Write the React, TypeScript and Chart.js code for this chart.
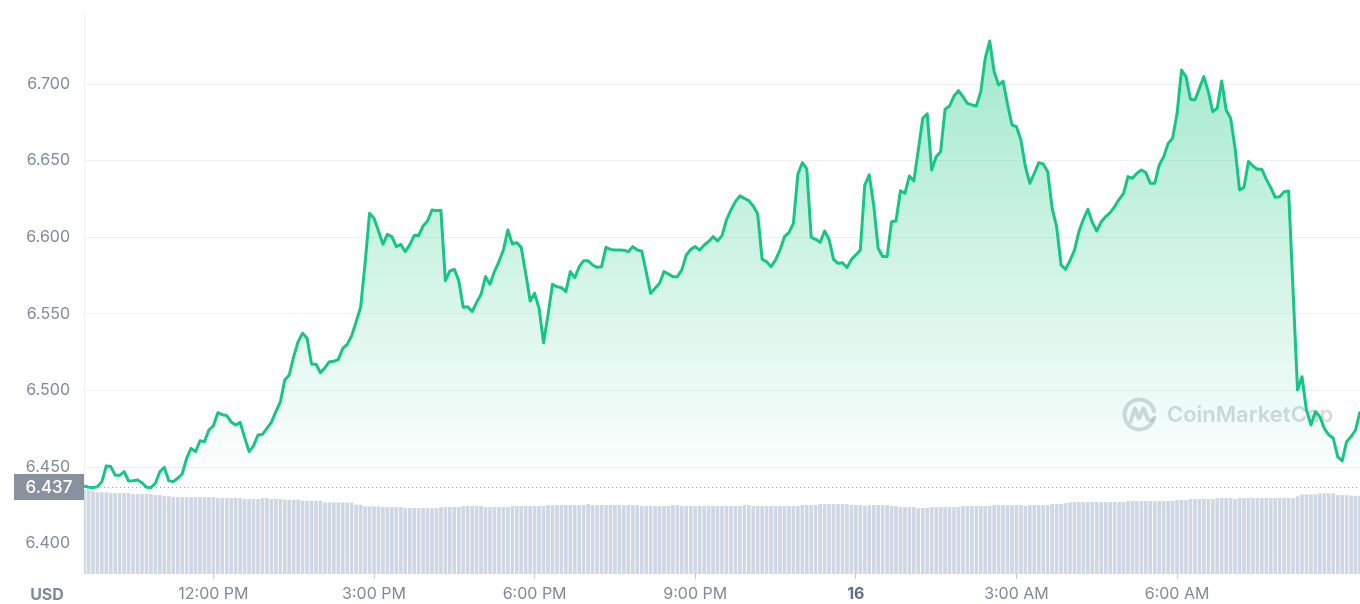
import React, { useEffect, useRef } from 'react';
import { Chart, registerables } from 'chart.js';

Chart.register(...registerables);

// first sample 9:35 AM (minutes since midnight of day 15), one sample every 5 minutes
const startMinute = 575;
const stepMinutes = 5;

const prices: number[] = [
  6.4377, 6.4368, 6.4366, 6.4372, 6.4405, 6.4507, 6.4503, 6.4446, 6.4446, 6.4470,
  6.4409, 6.4411, 6.4416, 6.4398, 6.4368, 6.4366, 6.4394, 6.4470, 6.4498, 6.4411,
  6.4405, 6.4427, 6.4455, 6.4557, 6.4622, 6.4601, 6.4672, 6.4666, 6.4742, 6.4770,
  6.4855, 6.4842, 6.4836, 6.4794, 6.4775, 6.4792, 6.4694, 6.4601, 6.4638, 6.4709,
  6.4714, 6.4753, 6.4792, 6.4862, 6.4923, 6.5069, 6.5101, 6.5221, 6.5319, 6.5373,
  6.5341, 6.5173, 6.5171, 6.5116, 6.5149, 6.5188, 6.5190, 6.5203, 6.5275,
  6.5301, 6.5358, 6.5449, 6.5543, 6.5830, 6.6156, 6.6124, 6.6043, 6.5954, 6.6019,
  6.6004, 6.5939, 6.5954, 6.5906, 6.5950, 6.6011, 6.6011, 6.6074, 6.6106, 6.6178,
  6.6174, 6.6174, 6.5717, 6.5780, 6.5791, 6.5717, 6.5543, 6.5547, 6.5515, 6.5575,
  6.5628, 6.5743, 6.5693, 6.5776, 6.5841, 6.5917, 6.6048, 6.5956, 6.5965, 6.5934,
  6.5765, 6.5584, 6.5634, 6.5536, 6.5312, 6.5493, 6.5693, 6.5678, 6.5671, 6.5645,
  6.5776, 6.5736, 6.5808, 6.5847, 6.5847, 6.5819, 6.5804, 6.5808,
  6.5934, 6.5921, 6.5917, 6.5917, 6.5915, 6.5906, 6.5939, 6.5917, 6.5911, 6.5776,
  6.5634, 6.5667, 6.5700, 6.5776, 6.5760, 6.5743, 6.5743, 6.5787, 6.5884, 6.5921,
  6.5939, 6.5917, 6.5950, 6.5972, 6.6004, 6.5976, 6.6011, 6.6113, 6.6178, 6.6233,
  6.6270, 6.6254, 6.6239, 6.6204, 6.6152, 6.5856, 6.5841, 6.5808, 6.5852, 6.5917,
  6.6004, 6.6030, 6.6091, 6.6411, 6.6487, 6.6446, 6.6000, 6.5987, 6.5967, 6.6041,
  6.5987, 6.5856, 6.5830, 6.5834, 6.5802, 6.5856,
  6.5885, 6.5917, 6.6341, 6.6407, 6.6211, 6.5928, 6.5874, 6.5874, 6.6102, 6.6106,
  6.6304, 6.6287, 6.6400, 6.6368, 6.6570, 6.6777, 6.6805, 6.6439, 6.6526, 6.6559,
  6.6835, 6.6857, 6.6922, 6.6957, 6.6918, 6.6874, 6.6864, 6.6857, 6.6951, 6.7168,
  6.7281, 6.7081, 6.6994, 6.7020, 6.6868, 6.6733, 6.6722, 6.6635, 6.6461, 6.6352,
  6.6418, 6.6487, 6.6479, 6.6428, 6.6189, 6.6069, 6.5819, 6.5791, 6.5848, 6.5917,
  6.6037, 6.6117, 6.6183, 6.6096, 6.6041, 6.6102,
  6.6135, 6.6161, 6.6200, 6.6248, 6.6287, 6.6396, 6.6385, 6.6418, 6.6439, 6.6422,
  6.6352, 6.6352, 6.6472, 6.6526, 6.6613, 6.6646, 6.6809, 6.7092, 6.7049, 6.6901,
  6.6896, 6.6972, 6.7049, 6.6951, 6.6820, 6.6842, 6.7020, 6.6831, 6.6777, 6.6581,
  6.6309, 6.6326, 6.6494, 6.6465, 6.6444, 6.6444, 6.6378, 6.6324, 6.6261, 6.6265,
  6.6298, 6.6302, 6.5650, 6.5003, 6.5090, 6.4873, 6.4775, 6.4862, 6.4829, 6.4753,
  6.4710, 6.4688, 6.4568, 6.4540, 6.4666, 6.4699, 6.4742, 6.4862,
];

// 24h volume (arbitrary units)
const volumes: number[] = [
  83.9, 83.9, 82.6, 81.3, 81.3, 81.3, 80.6, 80.6, 80.6, 80.6,
  80.6, 79.6, 79.6, 79.6, 79.6, 79.6, 78.6, 78.6, 77.6, 77.6,
  76.6, 76.6, 76.6, 76.6, 76.6, 76.6, 76.6, 76.6, 76.6, 76.6,
  75.6, 75.6, 75.6, 75.6, 75.6, 75.6, 74.6, 74.6, 74.6, 74.6,
  75.6, 75.6, 74.6, 74.6, 74.6, 73.9, 73.9, 73.9, 73.9, 72.9,
  72.9, 72.9, 72.9, 72.9, 71.3, 71.3, 71.3, 71.3, 71.3, 71.3,
  71.3, 68.9, 68.9, 67.3, 67.3, 67.3, 67.3, 66.6, 66.6, 66.6,
  66.6, 66.6, 65.6, 65.6, 65.6, 65.6, 65.6, 65.6, 65.6, 65.6,
  66.6, 66.6, 66.6, 66.6, 66.6, 67.6, 67.6, 67.6, 67.6, 67.6,
  66.6, 66.6, 66.6, 66.6, 66.6, 66.6, 67.6, 67.6, 67.6, 67.6,
  67.6, 67.6, 67.6, 67.6, 68.6, 68.6, 68.6, 68.6, 68.6, 68.6,
  68.6, 68.6, 68.6, 69.6, 68.6, 68.6, 68.6, 68.6, 68.6, 68.6,
  68.6, 68.6, 68.6, 68.6, 68.6, 67.6, 67.6, 67.6, 67.6, 67.6,
  67.6, 67.6, 68.6, 68.6, 67.6, 67.6, 67.6, 67.6, 67.6, 67.6,
  67.6, 67.6, 67.6, 67.6,
  67.6, 67.6, 67.6, 67.6, 68.6, 68.6, 67.6, 67.6, 67.6, 67.6,
  67.6, 67.6, 67.6, 67.6, 67.6, 67.6, 67.6, 68.6, 68.6, 68.6,
  68.6, 69.6, 69.6, 69.6, 69.6, 69.6, 69.6, 69.6, 68.6, 68.6,
  68.6, 67.6, 68.6, 68.6, 68.6, 68.6, 68.6, 67.6, 67.6, 66.6,
  66.6, 66.6, 66.6, 65.6, 65.6, 65.6, 66.6, 66.6, 66.6, 66.6,
  66.6, 66.6, 66.6, 67.6, 67.6, 67.6, 67.6, 67.6, 67.6, 67.6,
  68.6, 68.6, 68.6, 68.6, 68.6, 68.6, 68.6, 67.6, 68.6, 68.6,
  68.6, 68.6, 68.6, 69.6, 69.6, 69.6, 70.6, 71.3, 71.6, 71.6,
  71.6, 71.6, 71.6, 71.6, 71.6, 71.6, 71.6, 71.6, 71.6, 71.6,
  72.6, 72.6, 72.6, 72.6, 72.6, 72.6, 72.6, 72.6, 72.6, 72.6,
  72.6, 73.6, 73.6, 73.6, 74.6, 74.6, 74.6, 74.6, 74.6, 74.6,
  75.6, 75.6, 75.6, 75.6, 74.6, 75.6, 75.6, 75.6, 75.6, 75.6,
  75.6, 75.6, 75.6, 75.6, 75.6, 75.6, 75.6, 75.6, 77.3, 79.3,
  79.3, 79.3, 79.3, 80.3, 80.3, 80.3, 80.3, 78.6, 78.6, 78.6,
  77.9, 77.9, 77.9,
];

const openPrice = 6.437;
const priceTicks = [6.4, 6.45, 6.5, 6.55, 6.6, 6.65, 6.7];
const priceMin = 6.3802;
const priceMax = 6.7464;
const volumeMax = 561;
const timeTickMinutes = [720, 900, 1080, 1260, 1440, 1620, 1800];
const timeTickLabels = ['12:00 PM', '3:00 PM', '6:00 PM', '9:00 PM', '16', '3:00 AM', '6:00 AM'];
const currencyLabel = 'USD';
const watermarkText = 'CoinMarketCap';

const times = prices.map((_, i) => startMinute + i * stepMinutes);

const FONT = 'Inter, "Noto Sans", sans-serif';
const LINE_GREEN = '#16c784';
const TEXT_GRAY = '#808a9d';

const overlayPlugin = {
  id: 'overlay',
  beforeDatasetsDraw(chart: any) {
    const { ctx } = chart;
    const cx = 1139.5;
    const cy = 414.5;
    ctx.save();
    ctx.strokeStyle = 'rgba(150,159,178,0.40)';
    ctx.fillStyle = 'rgba(150,159,178,0.40)';
    ctx.lineWidth = 4;
    ctx.lineCap = 'round';
    ctx.lineJoin = 'round';
    ctx.beginPath();
    ctx.arc(cx, cy, 15, 0.12 * Math.PI, 1.93 * Math.PI);
    ctx.stroke();
    ctx.beginPath();
    ctx.moveTo(cx - 9, cy + 7);
    ctx.lineTo(cx - 4.5, cy - 6);
    ctx.lineTo(cx - 0.5, cy + 4);
    ctx.lineTo(cx + 4, cy - 6);
    ctx.lineTo(cx + 8, cy + 4);
    ctx.quadraticCurveTo(cx + 11, cy + 8, cx + 15, cy + 3);
    ctx.stroke();
    ctx.font = `600 22px ${FONT}`;
    ctx.textAlign = 'left';
    ctx.textBaseline = 'middle';
    ctx.fillText(watermarkText, 1167, cy + 1);
    ctx.restore();
  },
  afterDatasetsDraw(chart: any) {
    const { ctx, chartArea, scales } = chart;
    const y = Math.round(scales.y.getPixelForValue(openPrice)) + 0.5;
    ctx.save();
    ctx.strokeStyle = '#9aa1ad';
    ctx.lineWidth = 1;
    ctx.setLineDash([1, 3]);
    ctx.beginPath();
    ctx.moveTo(chartArea.left, y);
    ctx.lineTo(chartArea.right, y);
    ctx.stroke();
    ctx.restore();
  },
  afterDraw(chart: any) {
    const { ctx, chartArea, scales } = chart;
    const y = scales.y.getPixelForValue(openPrice);
    ctx.save();
    ctx.fillStyle = '#8a919e';
    ctx.fillRect(14, y - 13, chartArea.left - 14, 26);
    ctx.fillStyle = '#ffffff';
    ctx.font = `500 17px ${FONT}`;
    ctx.textAlign = 'center';
    ctx.textBaseline = 'middle';
    ctx.fillText(openPrice.toFixed(3), (14 + chartArea.left) / 2, y + 0.5);
    ctx.fillStyle = TEXT_GRAY;
    ctx.font = `bold 16px ${FONT}`;
    ctx.fillText(currencyLabel, 47, 595);
    ctx.restore();
  },
};

export default function App() {
  const canvasRef = useRef<HTMLCanvasElement | null>(null);

  useEffect(() => {
    const canvas = canvasRef.current;
    if (!canvas) return;
    const chart = new Chart(canvas, {
      type: 'line',
      data: {
        datasets: [
          {
            type: 'line',
            label: 'Price',
            data: prices.map((p, i) => ({ x: times[i], y: p })),
            yAxisID: 'y',
            borderColor: LINE_GREEN,
            borderWidth: 3,
            pointRadius: 0,
            tension: 0,
            borderJoinStyle: 'round',
            fill: 'origin',
            backgroundColor: (c: any) => {
              const ch = c.chart;
              const area = ch.chartArea;
              if (!area) return 'rgba(22,199,132,0.1)';
              const yEnd = ch.scales.y.getPixelForValue(openPrice);
              const g = ch.ctx.createLinearGradient(0, area.top, 0, yEnd);
              g.addColorStop(0, 'rgba(22,199,132,0.42)');
              g.addColorStop(0.5, 'rgba(22,199,132,0.21)');
              g.addColorStop(1, 'rgba(22,199,132,0.0)');
              return g;
            },
            order: 0,
          } as any,
          {
            type: 'bar',
            label: 'Volume',
            data: volumes.map((v, i) => ({ x: times[i], y: v })),
            yAxisID: 'yVol',
            backgroundColor: '#cfd6e4',
            barThickness: 3,
            order: 1,
          } as any,
        ],
      },
      options: {
        animation: false,
        responsive: true,
        maintainAspectRatio: false,
        layout: { padding: { top: 13, right: 0, left: 0, bottom: 0 } },
        plugins: {
          legend: { display: false },
          tooltip: { enabled: false },
        },
        scales: {
          x: {
            type: 'linear',
            min: times[0],
            max: times[times.length - 1],
            offset: false,
            afterBuildTicks: (axis: any) => {
              axis.ticks = timeTickMinutes.map((v) => ({ value: v }));
            },
            afterFit: (s: any) => {
              s.height = 30;
              s.paddingLeft = 0;
              s.paddingRight = 0;
            },
            grid: {
              offset: false,
              drawOnChartArea: false,
              drawTicks: true,
              tickLength: 5,
              tickColor: '#c3c8d1',
            },
            border: { display: false },
            ticks: {
              autoSkip: false,
              maxRotation: 0,
              padding: 6,
              callback: (v: any) => {
                const idx = timeTickMinutes.indexOf(Number(v));
                return idx >= 0 ? timeTickLabels[idx] : '';
              },
              font: (c: any) => ({
                family: FONT,
                size: 16,
                weight: c.tick && c.tick.value === 1440 ? 'bold' : 'normal',
              }),
              color: (c: any) => (c.tick && c.tick.value === 1440 ? '#616e85' : TEXT_GRAY),
            },
          },
          y: {
            type: 'linear',
            position: 'left',
            min: priceMin,
            max: priceMax,
            afterBuildTicks: (axis: any) => {
              axis.ticks = priceTicks.map((v) => ({ value: v }));
            },
            afterFit: (s: any) => {
              s.width = 84;
              s.paddingTop = 0;
              s.paddingBottom = 0;
            },
            grid: {
              drawTicks: false,
              color: (c: any) => (c.tick && c.tick.value < 6.42 ? 'rgba(0,0,0,0)' : '#eff2f5'),
            },
            border: { display: true, color: '#eff2f5' },
            ticks: {
              padding: 14,
              color: TEXT_GRAY,
              font: { family: FONT, size: 16 },
              callback: (v: any) => Number(v).toFixed(3),
            },
          },
          yVol: {
            type: 'linear',
            display: false,
            min: 0,
            max: volumeMax,
          },
        },
      } as any,
      plugins: [overlayPlugin],
    });
    return () => chart.destroy();
  }, []);

  return (
    <div style={{ position: 'fixed', left: 0, top: 0, width: 1360, height: 604, background: '#ffffff' }}>
      <canvas ref={canvasRef} />
    </div>
  );
}
